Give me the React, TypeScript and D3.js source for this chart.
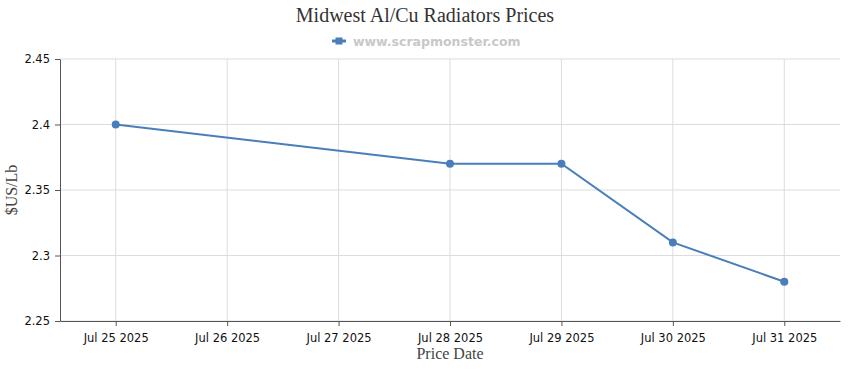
import React, { useRef, useEffect } from 'react';
import * as d3 from 'd3';

const dates = ['Jul 25 2025', 'Jul 26 2025', 'Jul 27 2025', 'Jul 28 2025', 'Jul 29 2025', 'Jul 30 2025', 'Jul 31 2025'];
const priceDates = ['Jul 25 2025', 'Jul 28 2025', 'Jul 29 2025', 'Jul 30 2025', 'Jul 31 2025'];
const prices = [2.4, 2.37, 2.37, 2.31, 2.28];
const yTicks = [2.25, 2.3, 2.35, 2.4, 2.45];

const W = 850;
const H = 370;

const App: React.FC = () => {
  const svgRef = useRef<SVGSVGElement>(null);

  useEffect(() => {
    if (!svgRef.current) return;
    const svg = d3.select(svgRef.current);
    svg.selectAll('*').remove();

    const margin = { top: 59, right: 10, bottom: 49, left: 60 };
    const cw = W - margin.left - margin.right;
    const ch = H - margin.top - margin.bottom;
    const color = '#4a7ebb';
    const sans = 'Tahoma, Verdana, "DejaVu Sans", sans-serif';
    const serif = '"Times New Roman", "Liberation Serif", serif';

    const g = svg.append('g').attr('transform', `translate(${margin.left},${margin.top})`);

    const x = d3.scalePoint<string>().domain(dates).range([0, cw]).padding(0.5);
    const y = d3.scaleLinear().domain([2.25, 2.45]).range([ch, 0]);

    // Grid
    g.append('g').selectAll('line.h').data(yTicks).enter().append('line')
      .attr('x1', 0).attr('x2', cw)
      .attr('y1', d => y(d)).attr('y2', d => y(d))
      .attr('stroke', '#dcdcdc');
    g.append('g').selectAll('line.v').data(dates).enter().append('line')
      .attr('x1', d => x(d) || 0).attr('x2', d => x(d) || 0)
      .attr('y1', 0).attr('y2', ch)
      .attr('stroke', '#dcdcdc');

    // Axes
    const yAxis = g.append('g')
      .call(d3.axisLeft(y).tickValues(yTicks).tickSize(5).tickSizeOuter(0).tickFormat(d => d3.format('')(d as number)));
    yAxis.select('.domain').attr('stroke', '#555');
    yAxis.selectAll('line').attr('stroke', '#555');
    yAxis.selectAll('text').attr('font-family', sans).attr('font-size', '11.5px').attr('fill', '#111').attr('dx', '-2');

    const xAxis = g.append('g').attr('transform', `translate(0,${ch})`)
      .call(d3.axisBottom(x).tickSize(5).tickSizeOuter(0));
    xAxis.select('.domain').attr('stroke', '#555');
    xAxis.selectAll('line').attr('stroke', '#555');
    xAxis.selectAll('text').attr('font-family', sans).attr('font-size', '11.5px').attr('fill', '#111').attr('dy', '1.15em');

    // Line
    const pts = priceDates.map((d, i) => ({ d, v: prices[i] }));
    g.append('path').datum(pts)
      .attr('fill', 'none').attr('stroke', color).attr('stroke-width', 2)
      .attr('d', d3.line<{ d: string; v: number }>().x(p => x(p.d) || 0).y(p => y(p.v)));
    g.selectAll('circle.pt').data(pts).enter().append('circle')
      .attr('cx', p => x(p.d) || 0).attr('cy', p => y(p.v)).attr('r', 4)
      .attr('fill', color);

    // Title
    svg.append('text').attr('x', W / 2).attr('y', 22).attr('text-anchor', 'middle')
      .attr('font-family', serif).attr('font-size', '20px')
      .attr('fill', '#333').text('Midwest Al/Cu Radiators Prices');

    // Legend
    const lg = svg.append('g').attr('transform', 'translate(332,41)');
    lg.append('line').attr('x1', 0).attr('x2', 14).attr('y1', 0).attr('y2', 0).attr('stroke', color).attr('stroke-width', 3);
    lg.append('rect').attr('x', 3.5).attr('y', -3.5).attr('width', 7).attr('height', 7).attr('fill', color);
    lg.append('text').attr('x', 21).attr('y', 4.5)
      .attr('font-family', sans).attr('font-size', '12.5px').attr('font-weight', 'bold')
      .attr('fill', '#c8c8c8').text('www.scrapmonster.com');

    // Axis titles
    svg.append('text').attr('transform', `translate(17,${margin.top + ch / 2}) rotate(-90)`)
      .attr('text-anchor', 'middle')
      .attr('font-family', serif).attr('font-size', '16px')
      .attr('fill', '#444').text('$US/Lb');
    svg.append('text').attr('x', margin.left + cw / 2).attr('y', 359).attr('text-anchor', 'middle')
      .attr('font-family', serif).attr('font-size', '16px')
      .attr('fill', '#444').text('Price Date');
  }, []);

  return <svg ref={svgRef} width={W} height={H} style={{ position: 'absolute', left: 0, top: 0, background: '#fff' }} />;
};

export default App;
